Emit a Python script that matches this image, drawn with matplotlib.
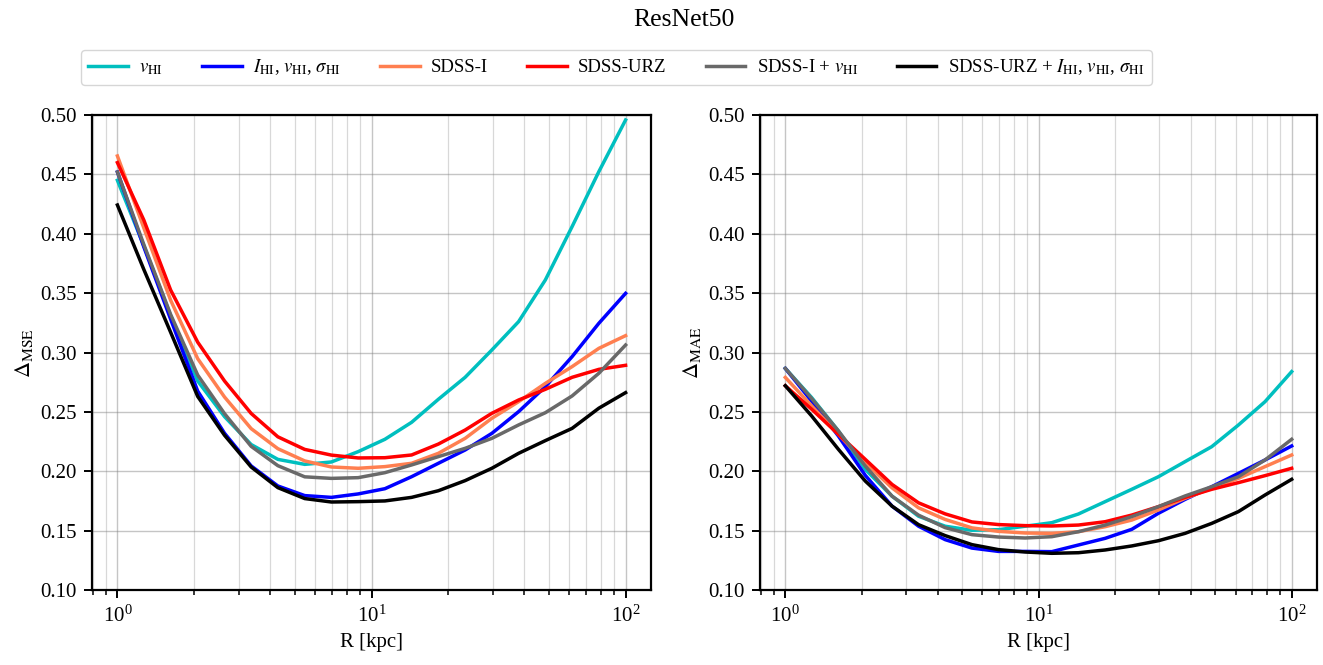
import matplotlib
matplotlib.use("Agg")
import matplotlib.pyplot as plt

plt.rcParams['font.family'] = ['Liberation Serif', 'DejaVu Serif']
plt.rcParams['mathtext.fontset'] = 'stix'

R = [1.0, 1.27, 1.62, 2.07, 2.64, 3.36, 4.28, 5.46, 6.95, 8.86, 11.29, 14.38,
     18.33, 23.36, 29.76, 37.93, 48.33, 61.58, 78.48, 100.0]

labels = [r"$v_{\rm HI}$",
          r"$I_{\rm HI}$, $v_{\rm HI}$, $\sigma_{\rm HI}$",
          "SDSS-I",
          "SDSS-URZ",
          r"SDSS-I + $v_{\rm HI}$",
          r"SDSS-URZ + $I_{\rm HI}$, $v_{\rm HI}$, $\sigma_{\rm HI}$"]
colors = ["c", "b", "coral", "r", "dimgray", "k"]
yticks = [0.10, 0.15, 0.20, 0.25, 0.30, 0.35, 0.40, 0.45, 0.50]

mse_vhi = [0.445, 0.390, 0.331, 0.276, 0.246, 0.2225, 0.210, 0.2058, 0.2078, 0.2165,
           0.2269, 0.2412, 0.2606, 0.2791, 0.3021, 0.3260, 0.3611, 0.4060, 0.4523, 0.4958]
mse_ihi = [0.452, 0.389, 0.328, 0.2675, 0.232, 0.2045, 0.1876, 0.1795, 0.178, 0.1809,
           0.1853, 0.1954, 0.2067, 0.2179, 0.2319, 0.2502, 0.2712, 0.2965, 0.3246, 0.3498]
mse_sdssi = [0.4655, 0.405, 0.344, 0.2948, 0.2625, 0.2359, 0.219, 0.2087, 0.2036, 0.2025,
             0.2039, 0.2067, 0.2151, 0.2277, 0.2446, 0.2586, 0.274, 0.2881, 0.3035, 0.3142]
mse_urz = [0.4599, 0.4116, 0.3526, 0.3087, 0.276, 0.2487, 0.229, 0.2184, 0.2136, 0.2112,
           0.2114, 0.2137, 0.2229, 0.2347, 0.2488, 0.26, 0.269, 0.2791, 0.2858, 0.2892]
mse_sdssi_v = [0.452, 0.391, 0.332, 0.281, 0.2485, 0.221, 0.2047, 0.1953, 0.194, 0.1946,
               0.1988, 0.2053, 0.2123, 0.2193, 0.2277, 0.239, 0.2493, 0.2634, 0.2825, 0.3063]
mse_all = [0.4242, 0.370, 0.317, 0.2630, 0.2303, 0.2036, 0.1862, 0.177, 0.1741, 0.1744,
           0.175, 0.178, 0.1836, 0.1921, 0.2025, 0.2151, 0.2258, 0.2361, 0.2531, 0.2662]

mae_vhi = [0.2866, 0.2621, 0.234, 0.2015, 0.179, 0.1621, 0.1537, 0.1503, 0.1508, 0.1537,
           0.1567, 0.164, 0.1744, 0.1848, 0.1954, 0.2081, 0.2207, 0.2389, 0.2586, 0.2839]
mae_ihi = [0.2866, 0.259, 0.2297, 0.1965, 0.1706, 0.1537, 0.1424, 0.1353, 0.1325, 0.1325,
           0.1323, 0.1379, 0.1435, 0.1511, 0.1646, 0.1763, 0.187, 0.1982, 0.2095, 0.2213]
mae_sdssi = [0.279, 0.2551, 0.2311, 0.2072, 0.186, 0.1692, 0.1594, 0.1523, 0.1494, 0.148,
             0.1477, 0.1491, 0.1533, 0.1589, 0.1674, 0.1772, 0.1856, 0.194, 0.2039, 0.2137]
mae_urz = [0.272, 0.2523, 0.2311, 0.21, 0.1889, 0.1734, 0.1641, 0.1573, 0.1551, 0.1542,
           0.1539, 0.1547, 0.1575, 0.1631, 0.1702, 0.178, 0.1848, 0.1904, 0.1963, 0.2025]
mae_sdssi_v = [0.2866, 0.2613, 0.234, 0.2044, 0.179, 0.163, 0.1525, 0.1466, 0.1446, 0.1438,
               0.1449, 0.1491, 0.1547, 0.1618, 0.1702, 0.1792, 0.187, 0.1954, 0.2095, 0.2269]
mae_all = [0.272, 0.2466, 0.2185, 0.1917, 0.1706, 0.155, 0.1458, 0.1382, 0.134, 0.132,
           0.1309, 0.1314, 0.1337, 0.1371, 0.1415, 0.1477, 0.1561, 0.166, 0.18, 0.1932]

mse = [mse_vhi, mse_ihi, mse_sdssi, mse_urz, mse_sdssi_v, mse_all]
mae = [mae_vhi, mae_ihi, mae_sdssi, mae_urz, mae_sdssi_v, mae_all]

W, H = 1323, 665
fig = plt.figure(figsize=(W / 100, H / 100), dpi=100)
ax1 = fig.add_axes([92 / W, 75 / H, 559 / W, 475 / H])
ax2 = fig.add_axes([760 / W, 75 / H, 557 / W, 475 / H])

for ax, data, ylab in [(ax1, mse, r"$\Delta_{\rm MSE}$"), (ax2, mae, r"$\Delta_{\rm MAE}$")]:
    lines = []
    for y, c, lab in zip(data, colors, labels):
        ln, = ax.plot(R, y, color=c, lw=2.5, label=lab)
        lines.append(ln)
    ax.set_xscale("log")
    ax.set_ylim(0.10, 0.50)
    ax.set_yticks(yticks)
    ax.set_yticklabels([f"{v:.2f}" for v in yticks])
    ax.grid(which="major", color="gray", alpha=0.45, lw=1.0)
    ax.grid(which="minor", color="gray", alpha=0.3, lw=0.9)
    ax.set_xlabel("R [kpc]", fontsize=15, labelpad=5)
    ax.set_ylabel(ylab, fontsize=16)
    ax.tick_params(labelsize=15, width=1.4, length=6, pad=5)
    ax.tick_params(which="minor", width=1.1, length=3.5)
    for s in ax.spines.values():
        s.set_linewidth(1.6)

fig.text(684 / W, 1 - 26 / H, "ResNet50", ha="center", va="baseline", fontsize=18.5)
fig.legend(lines, labels, loc="upper left", bbox_to_anchor=(71.5 / W, 1 - 40.5 / H),
           ncol=6, fontsize=13.5, frameon=True, handlelength=2.1, handletextpad=0.6,
           columnspacing=2.1, borderpad=0.4)

fig.savefig("out.png", dpi=100)
